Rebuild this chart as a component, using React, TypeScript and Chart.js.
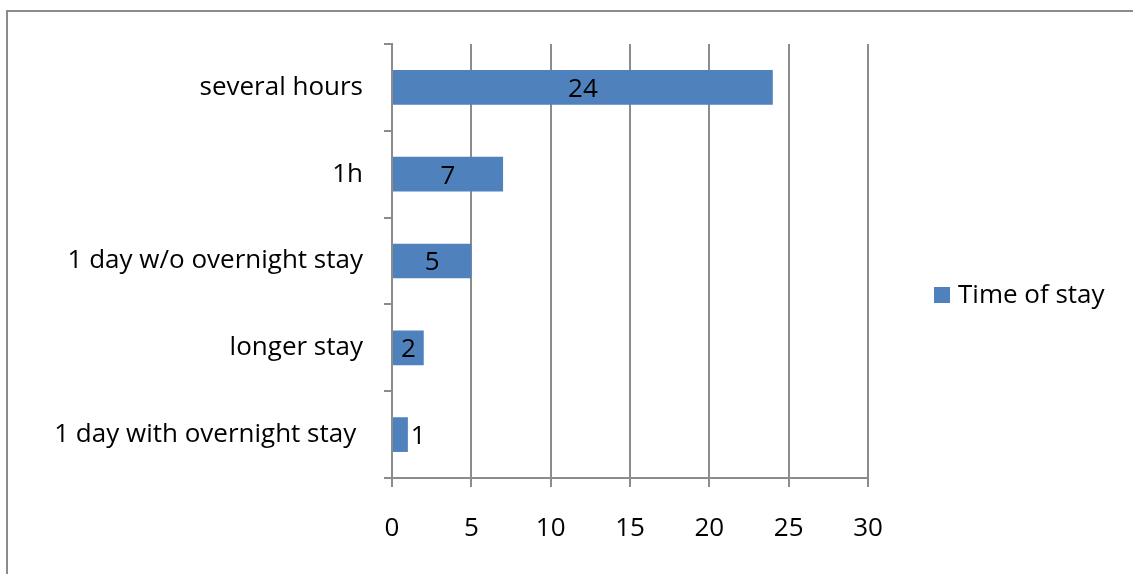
import React, { useEffect, useRef } from "react";
import { Chart, registerables } from "chart.js";

Chart.register(...registerables);

const categories = [
  "several hours",
  "1h",
  "1 day w/o overnight stay",
  "longer stay",
  "1 day with overnight stay ",
];
const timeOfStay = [24, 7, 5, 2, 1];
const seriesLabel = "Time of stay";
const xTicks = [0, 5, 10, 15, 20, 25, 30];

const FONT = "'Open Sans', 'Liberation Sans', sans-serif";
const FONT_SIZE = 26;
const GREY = "#8c8c8c";
const BLUE = "#4F81BD";

const framePlugin = {
  id: "frame",
  beforeDraw(chart: any) {
    const ctx = chart.ctx;
    ctx.save();
    ctx.fillStyle = "#fff";
    ctx.fillRect(0, 0, chart.width, chart.height);
    ctx.strokeStyle = GREY;
    ctx.lineWidth = 2;
    ctx.strokeRect(7, 11, chart.width + 20, chart.height + 20);
    ctx.restore();
  },
};

const labelPlugin = {
  id: "barLabels",
  afterDatasetsDraw(chart: any) {
    const ctx = chart.ctx;
    const meta = chart.getDatasetMeta(0);
    ctx.save();
    ctx.font = `${FONT_SIZE}px ${FONT}`;
    ctx.fillStyle = "#000";
    ctx.textBaseline = "middle";
    meta.data.forEach((bar: any, i: number) => {
      const txt = String(chart.data.datasets[0].data[i]);
      const tw = ctx.measureText(txt).width;
      const w = bar.x - bar.base;
      if (w < tw * 2) {
        ctx.textAlign = "left";
        ctx.fillText(txt, bar.x + 3, bar.y + 2);
      } else {
        ctx.textAlign = "center";
        ctx.fillText(txt, (bar.x + bar.base) / 2, bar.y + 2);
      }
    });
    ctx.restore();
  },
};

const legendPlugin = {
  id: "customLegend",
  afterDraw(chart: any) {
    const ctx = chart.ctx;
    const ds = chart.data.datasets[0];
    ctx.save();
    ctx.fillStyle = ds.backgroundColor;
    ctx.fillRect(934, 287, 16, 16);
    ctx.font = `${FONT_SIZE}px ${FONT}`;
    ctx.fillStyle = "#000";
    ctx.textAlign = "left";
    ctx.textBaseline = "middle";
    ctx.fillText(ds.label, 958, 296);
    ctx.restore();
  },
};

export default function App() {
  const ref = useRef<HTMLCanvasElement | null>(null);
  useEffect(() => {
    document.body.style.margin = "0";
    const chart = new Chart(ref.current!, {
      type: "bar",
      data: {
        labels: categories,
        datasets: [
          {
            label: seriesLabel,
            data: timeOfStay,
            backgroundColor: BLUE,
            categoryPercentage: 1,
            barPercentage: 0.4,
          },
        ],
      },
      options: {
        indexAxis: "y",
        animation: false,
        responsive: false,
        maintainAspectRatio: false,
        layout: { padding: { top: 44, right: 265, left: 0, bottom: 0 } },
        plugins: {
          legend: { display: false },
          tooltip: { enabled: false },
        },
        scales: {
          x: {
            min: 0,
            max: 30,
            afterBuildTicks(scale: any) {
              scale.ticks = xTicks.map((v) => ({ value: v }));
            },
            afterFit(scale: any) {
              scale.height = 574 - 478;
            },
            grid: {
              color: GREY,
              lineWidth: 2,
              tickLength: 9,
              drawTicks: true,
            },
            border: { display: true, color: GREY, width: 2 },
            ticks: {
              color: "#000",
              font: { family: FONT, size: FONT_SIZE },
              padding: 26,
              maxRotation: 0,
            },
          },
          y: {
            afterFit(scale: any) {
              scale.width = 392;
            },
            grid: {
              offset: true,
              drawOnChartArea: false,
              drawTicks: true,
              tickLength: 8,
              color: GREY,
              lineWidth: 2,
            },
            border: { display: true, color: GREY, width: 2 },
            ticks: {
              color: "#000",
              font: { family: FONT, size: FONT_SIZE },
              padding: 21,
            },
          },
        },
      },
      plugins: [framePlugin, labelPlugin, legendPlugin],
    });
    return () => chart.destroy();
  }, []);
  return (
    <div style={{ position: "absolute", left: 0, top: 0, width: 1133, height: 574 }}>
      <canvas ref={ref} width={1133} height={574} style={{ width: 1133, height: 574, display: "block" }} />
    </div>
  );
}
